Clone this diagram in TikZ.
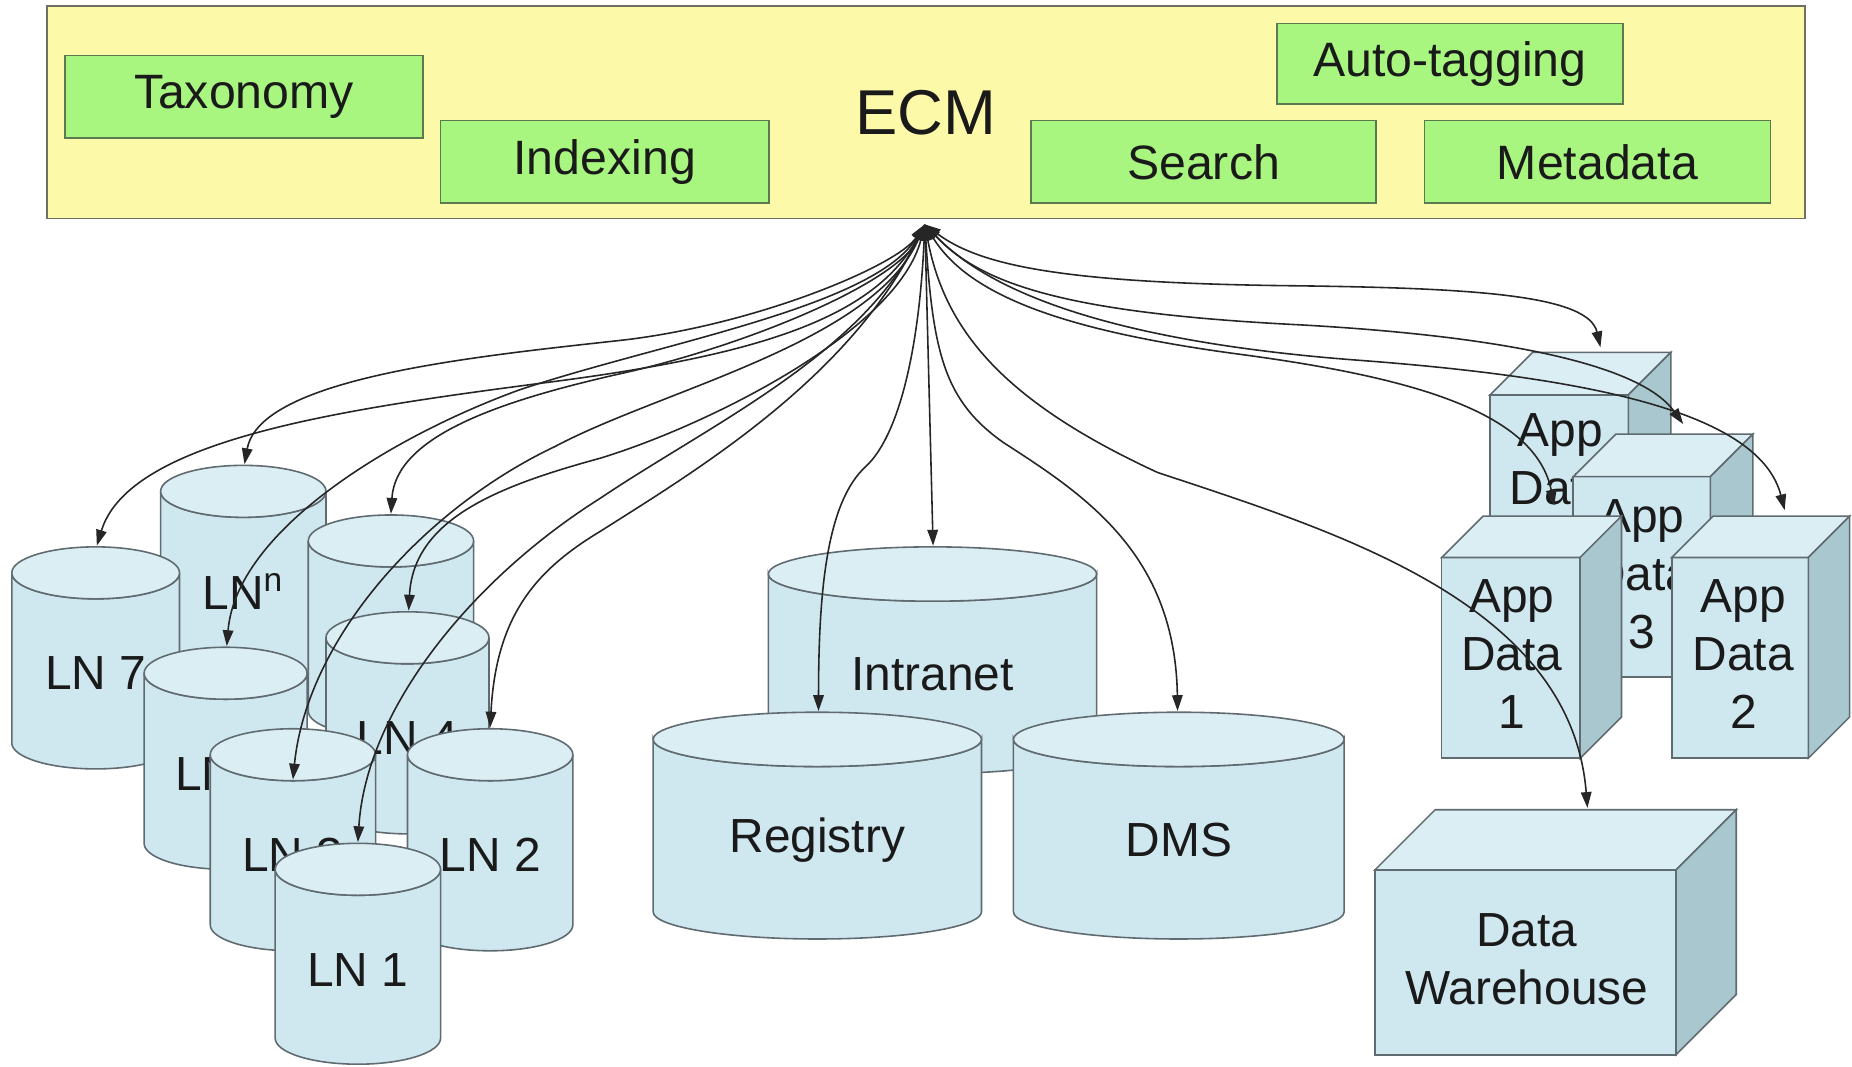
\documentclass[tikz,border=0pt]{standalone}
\usepackage{fontspec}
\setmainfont{Liberation Sans}
\usetikzlibrary{arrows.meta}
\definecolor{ylwfill}{HTML}{FCF9A8}
\definecolor{ylwdraw}{HTML}{6F6F62}
\definecolor{grnfill}{HTML}{A8F580}
\definecolor{grndraw}{HTML}{5C7A52}
\definecolor{cbody}{HTML}{CFE7EF}
\definecolor{ctop}{HTML}{DBEEF4}
\definecolor{cedge}{HTML}{5F6B70}
\definecolor{bside}{HTML}{A9C7CE}
\definecolor{txt}{HTML}{1A1A1A}
\newcommand\un{0.0118cm}
\newcommand\cylnd[7]{%
  \filldraw[cylbody] (#2-#4,#3) -- ++(0,#6) arc[start angle=180,end angle=0,x radius=#4,y radius=#5] -- ++(0,-#6) arc[start angle=0,end angle=180,x radius=#4,y radius=#5] -- cycle;
  \filldraw[cyltop] (#2,#3) ellipse[x radius=#4,y radius=#5];
  \node[lbl] (#1) at (#2,#3+85) {#7};
}
\newcommand\boxnd[6]{%
  \filldraw[boxfront] (#2,#3) rectangle (#4,#5);
  \filldraw[boxtop] (#2,#3) -- (#2+#6,#3-#6) -- (#4+#6,#3-#6) -- (#4,#3) -- cycle;
  \filldraw[boxside] (#4,#3) -- (#4+#6,#3-#6) -- (#4+#6,#5-#6) -- (#4,#5) -- cycle;
  \coordinate (#1) at ({(#2+#4)/2},{(#3+#5)/2});
}
\tikzset{
  lbl/.style={font=\fontsize{13.6}{16.5}\selectfont, text=txt, align=center, inner sep=0pt},
  ecmstyle/.style={draw=ylwdraw, fill=ylwfill, line width=0.5pt, inner sep=0pt,
    font=\fontsize{18}{20}\selectfont, text=txt},
  gbox/.style={draw=grndraw, fill=grnfill, line width=0.5pt, inner sep=0pt,
    font=\fontsize{13.7}{16}\selectfont, text=txt},
  cylbody/.style={fill=cbody, draw=cedge, line width=0.45pt},
  cyltop/.style={fill=ctop, draw=cedge, line width=0.45pt},
  boxfront/.style={fill=cbody, draw=cedge, line width=0.45pt},
  boxtop/.style={fill=ctop, draw=cedge, line width=0.45pt},
  boxside/.style={fill=bside, draw=cedge, line width=0.45pt},
  conn/.style={draw=black!85, line width=0.45pt, >={Triangle[length=4.5pt,width=3pt]}, <->},
}
\begin{document}
\begin{tikzpicture}[x=\un, y=-\un]
\useasboundingbox (0,0) rectangle (1568,903);
\fill[white] (0,0) rectangle (1568,903);

% ECM box and components
\node[ecmstyle, minimum width=1488*\un, minimum height=180*\un] (ecm) at (784,95) {ECM};
\node[gbox, minimum width=303*\un, minimum height=70*\un] (tax) at (206.5,82) {Taxonomy};
\node[gbox, minimum width=278*\un, minimum height=70*\un] (idx) at (512,137) {Indexing};
\node[gbox, minimum width=292*\un, minimum height=70*\un] (srch) at (1019,137) {Search};
\node[gbox, minimum width=293*\un, minimum height=68*\un] (auto) at (1227.5,54) {Auto-tagging};
\node[gbox, minimum width=293*\un, minimum height=70*\un] (meta) at (1352.5,137) {Metadata};
\coordinate (src) at (783,190);

% left cylinders (back to front)
\cylnd{lnn}{206}{416}{70}{22}{144}{LN\textsuperscript{n}}
\cylnd{ln5}{331}{458}{70}{22}{144}{}
\cylnd{ln7}{81}{485}{71}{22}{144}{LN 7}
\cylnd{ln4}{345}{540}{69}{22}{144}{LN 4}
\cylnd{ln6}{191}{570}{69}{22}{144}{LN 6}
\cylnd{ln3}{248}{639}{70}{22}{144}{LN 3}
\cylnd{ln2}{415}{639}{70}{22}{144}{LN 2}
\cylnd{ln1}{303}{736}{70}{22}{143}{LN 1}

% middle cylinders
\cylnd{intr}{789.5}{486}{139}{23}{146}{Intranet}
\cylnd{reg}{692}{626}{139}{23}{146}{Registry}
\cylnd{dms}{998}{626}{140}{23}{146}{DMS}

% right boxes
\boxnd{ad4}{1261.5}{334.4}{1378.6}{504}{36}
\node[lbl] (ad4l) at (1321,389) {App\\Data};
\boxnd{ad3}{1332}{403.6}{1448}{573}{36}
\node[lbl] (ad3l) at (1390,486) {App\\Data\\3};
\boxnd{ad1}{1220.6}{472}{1337.8}{642}{35}
\node[lbl] (ad1l) at (1280,554) {App\\Data\\1};
\boxnd{ad2}{1415.4}{472}{1531}{642}{35}
\node[lbl] (ad2l) at (1476,554) {App\\Data\\2};
\boxnd{dw}{1164}{736.6}{1419}{893}{51}
\node[lbl] (dwl) at (1292.6,812) {Data\\Warehouse};

% arrow targets
\coordinate (t-ln7) at (82,462);
\coordinate (t-lnn) at (207,393);
\coordinate (t-ln5) at (331,435);
\coordinate (t-ln6) at (192,547);
\coordinate (t-ln4) at (346,517);
\coordinate (t-ln3) at (248,660);
\coordinate (t-ln1) at (303,713);
\coordinate (t-ln2) at (415,616);
\coordinate (t-intr) at (790,462);
\coordinate (t-reg) at (693,602);
\coordinate (t-dms) at (997,602);
\coordinate (t-ad4) at (1355,294);
\coordinate (t-ad3) at (1425,359);
\coordinate (t-ad2) at (1511,432);
\coordinate (t-ad1) at (1316,428);
\coordinate (t-dw) at (1344,684);

% connectors
\draw[conn] (src) .. controls (740,270) and (640,300) .. (477,322) .. controls (300,345) and (110,370) .. (t-ln7);
\draw[conn] (src) .. controls (760,225) and (640,275) .. (527,288) .. controls (400,302) and (220,320) .. (t-lnn);
\draw[conn] (src) .. controls (760,240) and (630,293) .. (527,316) .. controls (420,340) and (335,370) .. (t-ln5);
\draw[conn] (src) .. controls (740,260) and (560,290) .. (440,330) .. controls (330,370) and (200,450) .. (t-ln6);
\draw[conn] (src) .. controls (760,280) and (600,360) .. (508,388) .. controls (420,412) and (350,440) .. (t-ln4);
\draw[conn] (src) .. controls (740,290) and (560,330) .. (470,378) .. controls (360,430) and (260,540) .. (t-ln3);
\draw[conn] (src) .. controls (730,300) and (600,360) .. (508,422) .. controls (400,490) and (310,600) .. (t-ln1);
\draw[conn] (src) .. controls (720,320) and (590,398) .. (508,450) .. controls (455,482) and (420,520) .. (t-ln2);
\draw[conn] (src) -- (t-intr);
\draw[conn] (src) .. controls (778,300) and (760,370) .. (733,395) .. controls (700,425) and (693,500) .. (t-reg);
\draw[conn] (src) .. controls (790,300) and (800,340) .. (850,375) .. controls (920,420) and (995,470) .. (t-dms);
\draw[conn] (src) .. controls (830,225) and (900,240) .. (1100,242) .. controls (1250,244) and (1345,250) .. (t-ad4);
\draw[conn] (src) .. controls (830,240) and (900,265) .. (1100,275) .. controls (1280,285) and (1390,310) .. (t-ad3);
\draw[conn] (src) .. controls (840,250) and (950,290) .. (1150,305) .. controls (1350,320) and (1490,350) .. (t-ad2);
\draw[conn] (src) .. controls (820,250) and (900,280) .. (1050,300) .. controls (1200,320) and (1300,350) .. (t-ad1);
\draw[conn] (src) .. controls (800,280) and (850,340) .. (980,400) .. controls (1130,450) and (1330,510) .. (t-dw);
\end{tikzpicture}
\end{document}
